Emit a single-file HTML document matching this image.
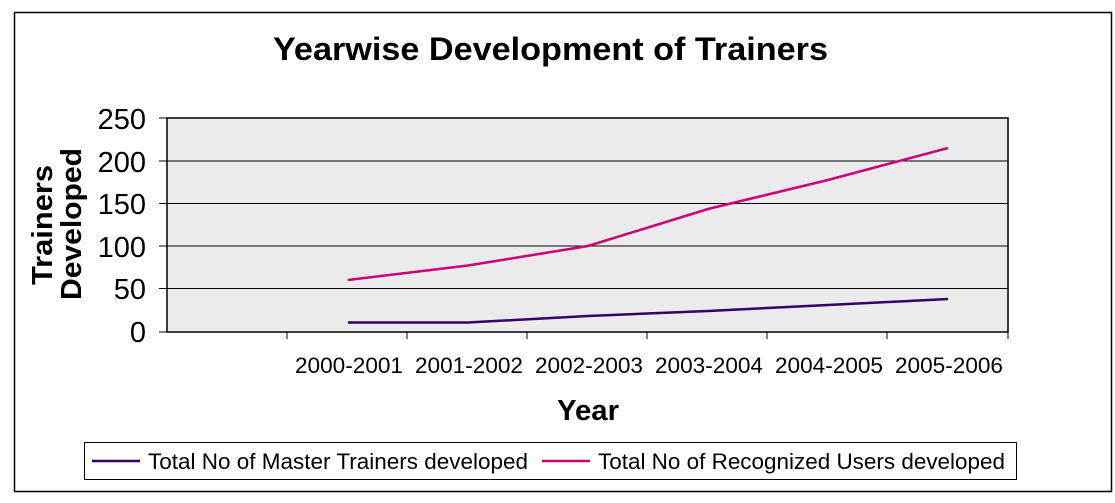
<!DOCTYPE html>
<html><head><style>body{margin:0;background:#fff}</style></head><body>
<svg width="1115" height="498" xmlns="http://www.w3.org/2000/svg" font-family="Liberation Sans, Arial, sans-serif">
<rect x="0" y="0" width="1115" height="498" fill="#fff"/>
<rect x="14.5" y="12.5" width="1097" height="479" fill="#fff" stroke="#000" stroke-width="1.5"/>
<text x="273" y="60" font-size="32" font-weight="bold" textLength="555" lengthAdjust="spacingAndGlyphs">Yearwise Development of Trainers</text>
<rect x="167" y="118" width="841" height="214" fill="#ebebeb" stroke="#000" stroke-width="1.5"/>
<g stroke="#000" stroke-width="1">
<line x1="159" y1="161" x2="1008" y2="161"/>
<line x1="159" y1="203.5" x2="1008" y2="203.5"/>
<line x1="159" y1="246" x2="1008" y2="246"/>
<line x1="159" y1="288.5" x2="1008" y2="288.5"/>
<line x1="159" y1="118" x2="167" y2="118"/>
<line x1="159" y1="332" x2="167" y2="332"/>
<line x1="287" y1="332" x2="287" y2="339"/>
<line x1="407" y1="332" x2="407" y2="339"/>
<line x1="527" y1="332" x2="527" y2="339"/>
<line x1="647" y1="332" x2="647" y2="339"/>
<line x1="767" y1="332" x2="767" y2="339"/>
<line x1="887" y1="332" x2="887" y2="339"/>
<line x1="1008" y1="332" x2="1008" y2="339"/>
</g>
<g font-size="29" text-anchor="end">
<text x="146" y="129">250</text><text x="146" y="172">200</text><text x="146" y="214">150</text>
<text x="146" y="257">100</text><text x="146" y="299">50</text><text x="146" y="342">0</text>
</g>
<text transform="translate(52,285) rotate(-90)" font-size="29" font-weight="bold" textLength="120" lengthAdjust="spacingAndGlyphs">Trainers</text>
<text transform="translate(81,300) rotate(-90)" font-size="29" font-weight="bold" textLength="152" lengthAdjust="spacingAndGlyphs">Developed</text>
<g font-size="22">
<text x="295" y="373" textLength="108" lengthAdjust="spacingAndGlyphs">2000-2001</text>
<text x="415" y="373" textLength="108" lengthAdjust="spacingAndGlyphs">2001-2002</text>
<text x="535" y="373" textLength="108" lengthAdjust="spacingAndGlyphs">2002-2003</text>
<text x="655" y="373" textLength="108" lengthAdjust="spacingAndGlyphs">2003-2004</text>
<text x="775" y="373" textLength="108" lengthAdjust="spacingAndGlyphs">2004-2005</text>
<text x="895" y="373" textLength="108" lengthAdjust="spacingAndGlyphs">2005-2006</text>
</g>
<text x="557" y="420" font-size="29" font-weight="bold" textLength="62" lengthAdjust="spacingAndGlyphs">Year</text>
<polyline fill="none" stroke="#cc0077" stroke-width="2.5" points="348,280 468,265.5 588,246 708,209 828,180 948,148"/>
<polyline fill="none" stroke="#330066" stroke-width="2.5" points="348,322.5 468,322.5 588,316 708,311 828,305 948,299"/>
<rect x="84.5" y="442.5" width="932" height="37" fill="#fff" stroke="#000" stroke-width="1"/>
<line x1="92" y1="461" x2="140" y2="461" stroke="#330066" stroke-width="2.5"/>
<text x="148" y="469" font-size="22" textLength="380" lengthAdjust="spacingAndGlyphs">Total No of Master Trainers developed</text>
<line x1="542" y1="461" x2="590" y2="461" stroke="#cc0077" stroke-width="2.5"/>
<text x="598" y="469" font-size="22" textLength="407" lengthAdjust="spacingAndGlyphs">Total No of Recognized Users developed</text>
</svg>
</body></html>
